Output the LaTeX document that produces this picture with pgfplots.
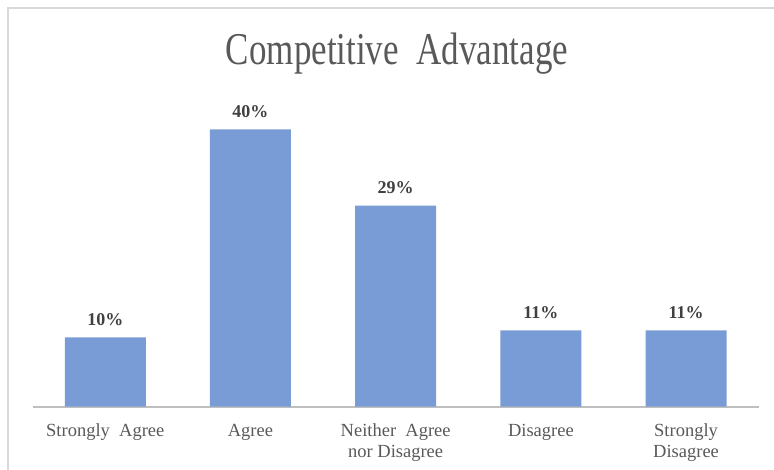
\documentclass[border=0pt]{standalone}
\usepackage{pgfplots}
\pgfplotsset{compat=1.18}
\usepackage{fontspec}
\setmainfont{Liberation Serif}
\definecolor{barblue}{RGB}{122,156,214}
\definecolor{axgray}{RGB}{191,191,191}
\definecolor{txtgray}{RGB}{89,89,89}
\definecolor{lblgray}{RGB}{64,64,64}
\definecolor{framegray}{RGB}{217,217,217}
\begin{document}
\begin{tikzpicture}[x=1pt,y=1pt]
\useasboundingbox (0,0) rectangle (774,469);
\begin{scope}
\clip (0,0) rectangle (774,469);
\draw[framegray, line width=2pt] (8,-10) -- (8,460.5) -- (790,460.5);
\end{scope}
\node[anchor=base, text=txtgray, font=\fontsize{35}{40}\selectfont] at (397,404) {\scalebox{1}[1.3]{Competitive\ \ Advantage}};
\begin{axis}[
  at={(22.5,90)}, anchor=south west,
  scale only axis, width=726pt, height=312pt,
  xmin=-0.5, xmax=4.5, ymin=0, ymax=45,
  ybar, bar width=81pt,
  axis y line=none,
  axis x line*=bottom,
  x axis line style={axgray, line width=2pt, -},
  xtick=data, major tick length=0pt,
  xticklabels={{Strongly\ \ Agree},{Agree},{Neither\ \ Agree\\nor Disagree},{Disagree},{Strongly\\Disagree}},
  xticklabel style={text=txtgray, font=\fontsize{18.5}{21}\selectfont, align=center, anchor=north, yshift=-14pt},
  /pgf/number format/assume math mode=true,
  nodes near coords={\pgfmathprintnumber{\pgfplotspointmeta}\%},
  nodes near coords style={text=lblgray, font=\fontsize{18}{20}\selectfont\bfseries, yshift=8pt},
  clip=false,
]
\addplot[fill=barblue, draw=none] coordinates {(0,10) (1,40) (2,29) (3,11) (4,11)};
\end{axis}
\end{tikzpicture}
\end{document}
